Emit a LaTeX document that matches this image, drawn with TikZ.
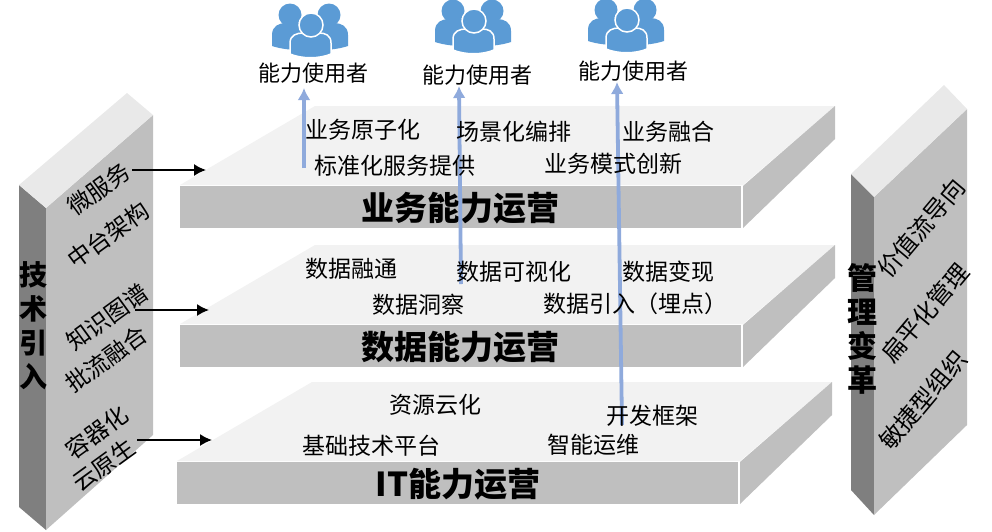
\documentclass[tikz,border=0pt]{standalone}
\usepackage{fontspec}
\setmainfont{Noto Sans CJK SC}
\usepackage{xcolor}
\usetikzlibrary{arrows.meta}
\definecolor{slabtop}{HTML}{F2F2F2}
\definecolor{slabfront}{HTML}{BFBFBF}
\definecolor{pillartop}{HTML}{E9E9E9}
\definecolor{pillardark}{HTML}{7F7F7F}
\definecolor{usersblue}{HTML}{5B9BD5}
\definecolor{flowblue}{HTML}{8FAADC}
\tikzset{
  reusepicture/.style={x=1pt, y=-1pt},
  facetop/.style={fill=slabtop},
  facefront/.style={fill=slabfront},
  pillarside/.style={fill=pillardark},
  pillarroof/.style={fill=pillartop},
  itemtext/.style={font=\fontsize{23}{25}\selectfont, inner sep=0pt},
  usertext/.style={font=\fontsize{22}{24}\selectfont, inner sep=0pt},
  layertitle/.style={font=\fontsize{33}{35}\selectfont\bfseries, inner sep=0pt},
  pillartitle/.style={font=\fontsize{28}{34}\selectfont\bfseries, inner sep=0pt, align=center},
  leftside/.style={font=\fontsize{23.5}{25}\selectfont, inner sep=0pt, rotate=36},
  rightside/.style={font=\fontsize{24}{26}\selectfont, inner sep=0pt, rotate=50},
  sidearrow/.style={-{Latex[length=12pt,width=12pt]}, line width=1.5pt, black},
  flowarrow/.style={-{Latex[length=12pt,width=13pt]}, line width=3.8pt, flowblue},
  usersicon/.pic={
    \fill[usersblue] (-39,21) -- (-39,10) .. controls (-39,1) and (-32,-2) .. (-25,-2) -- (-10,-2) -- (-10,25) .. controls (-20,25) and (-30,24) .. (-39,21) -- cycle;
    \fill[usersblue] (37,21) -- (37,10) .. controls (37,1) and (30,-2) .. (23,-2) -- (8,-2) -- (8,25) .. controls (18,25) and (28,24) .. (37,21) -- cycle;
    \fill[usersblue] (-21,-10) circle (11.5);
    \fill[usersblue] (18,-10) circle (11.5);
    \filldraw[usersblue, draw=white, line width=1.5pt] (-21,29) -- (-21,18) .. controls (-21,10) and (-14,8) .. (-8,8) -- (8,8) .. controls (14,8) and (20,10) .. (20,18) -- (20,29) .. controls (8,34) and (-9,34) .. (-21,29) -- cycle;
    \filldraw[usersblue, draw=white, line width=1.5pt] (0,0) circle (12);
  }
}
\begin{document}
\begin{tikzpicture}[reusepicture]
\useasboundingbox (0,0) rectangle (992,531);
% left pillar
\fill[pillarside] (19,185) -- (46,208) -- (46,530) -- (19,507) -- cycle;
\fill[facefront] (46,208) -- (153,115) -- (153,435) -- (46,530) -- cycle;
\fill[pillarroof] (19,185) -- (127,93) -- (153,115) -- (46,208) -- cycle;
% right pillar
\fill[pillarside] (851,174) -- (874,197) -- (874,515) -- (851,490) -- cycle;
\fill[facefront] (874,197) -- (967,109) -- (967,425) -- (874,515) -- cycle;
\fill[pillarroof] (851,174) -- (944,85) -- (967,109) -- (874,197) -- cycle;
% three layers
\foreach \name/\dx/\dy/\ttl/\tx in {biz/0/0/业务能力运营/460, data/0/139/数据能力运营/460, it/-3/276/IT能力运营/458}{
  \begin{scope}[shift={(\dx,\dy)}]
    \fill[facetop] (180,185) -- (315,106) -- (835,106) -- (743,185) -- cycle;
    \fill[facefront] (180,186) rectangle (741,228);
    \fill[facefront] (743,186) -- (835,106) -- (835,139) -- (743,228) -- cycle;
  \end{scope}
  \node[layertitle] (title\name) at (\tx,\dy+208) {\ttl};
}
% users
\pic at (311,25) {usersicon};
\pic at (474,21) {usersicon};
\pic at (627,20) {usersicon};
\node[usertext] (userone) at (313,73) {能力使用者};
\node[usertext] (usertwo) at (477,75) {能力使用者};
\node[usertext] (userthree) at (633,71) {能力使用者};
% flows
\coordinate (flowonea) at (304,168);
\coordinate (flowoneb) at (304,88);
\coordinate (flowtwoa) at (461,284);
\coordinate (flowtwob) at (459,86);
\coordinate (flowthreea) at (622,425);
\coordinate (flowthreeb) at (617,82);
\draw[flowarrow] (flowonea) -- (flowoneb);
\draw[flowarrow] (flowtwoa) -- (flowtwob);
\draw[flowarrow] (flowthreea) -- (flowthreeb);
% layer items
\node[itemtext] (atom) at (363,130) {业务原子化};
\node[itemtext] (scene) at (514,132) {场景化编排};
\node[itemtext] (fusion) at (668,132) {业务融合};
\node[itemtext] (service) at (395,166) {标准化服务提供};
\node[itemtext] (model) at (613,164) {业务模式创新};
\node[itemtext] (merge) at (351,269) {数据融通};
\node[itemtext] (visual) at (514,272) {数据可视化};
\node[itemtext] (cash) at (668,272) {数据变现};
\node[itemtext] (insight) at (418,305) {数据洞察};
\node[itemtext] (ingest) at (635,304) {数据引入（埋点）};
\node[itemtext] (cloud) at (435,405) {资源云化};
\node[itemtext] (frame) at (652,416) {开发框架};
\node[itemtext] (base) at (371,446) {基础技术平台};
\node[itemtext] (ops) at (593,445) {智能运维};
% pillar texts
\node[pillartitle] (tech) at (33,326) {技\\术\\引\\入};
\node[pillartitle, font=\fontsize{30}{34}\selectfont\bfseries] (manage) at (862,329) {管\\理\\变\\革};
\node[leftside] (micro) at (99,189) {微服务};
\node[leftside] (middle) at (108,235) {中台架构};
\node[leftside] (graph) at (107,317) {知识图谱};
\node[leftside] (batch) at (106,359) {批流融合};
\node[leftside] (container) at (97,432) {容器化};
\node[leftside] (native) at (104,465) {云原生};
\node[rightside] (value) at (921,228) {价值流导向};
\node[rightside] (flat) at (925,313) {扁平化管理};
\node[rightside] (agile) at (923,400) {敏捷型组织};
% side arrows
\coordinate (techonea) at (132,170);
\coordinate (techoneb) at (206,170);
\coordinate (techtwoa) at (135,310);
\coordinate (techtwob) at (209,310);
\coordinate (techthreea) at (137,440);
\coordinate (techthreeb) at (212,440);
\draw[sidearrow] (techonea) -- (techoneb);
\draw[sidearrow] (techtwoa) -- (techtwob);
\draw[sidearrow] (techthreea) -- (techthreeb);
\end{tikzpicture}
\end{document}
